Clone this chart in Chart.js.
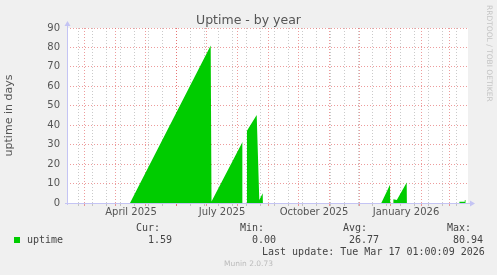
<!DOCTYPE html>
<html>
<head>
<meta charset="utf-8">
<script src="https://cdn.jsdelivr.net/npm/chart.js@4.4.1/dist/chart.umd.min.js"></script>
<style>
  html, body { margin: 0; padding: 0; background: #f0f0f0; }
  #wrap { position: relative; width: 497px; height: 275px; overflow: hidden; font-family: "DejaVu Sans", sans-serif; color: #555; }
  canvas { position: absolute; left: 0; top: 0; }
  .t { position: absolute; white-space: pre; }
  .mono { font-family: "DejaVu Sans Mono", monospace; font-size: 10px; line-height: 12px; color: #444; }
</style>
</head>
<body>
<div id="wrap">
  <canvas id="graph" width="497" height="275"></canvas>
  <div class="t" style="left:0;width:497px;top:12px;text-align:center;font-size:12.5px;line-height:15px;color:#555">Uptime - by year</div>
  <div class="t" style="left:485px;top:5px;font-size:7.5px;line-height:9px;color:#c4c4c4;writing-mode:vertical-rl">RRDTOOL / TOBI OETIKER</div>

  <div class="t mono" style="left:136px;top:222px">Cur:</div>
  <div class="t mono" style="left:240px;top:222px">Min:</div>
  <div class="t mono" style="left:343px;top:222px">Avg:</div>
  <div class="t mono" style="left:447px;top:222px">Max:</div>

  <div class="t" style="left:14px;top:237px;width:6px;height:6px;background:#00cc00"></div>
  <div class="t mono" style="left:27px;top:234px">uptime</div>
  <div class="t mono" style="left:148px;top:234px">1.59</div>
  <div class="t mono" style="left:252px;top:234px">0.00</div>
  <div class="t mono" style="left:349px;top:234px">26.77</div>
  <div class="t mono" style="left:453px;top:234px">80.94</div>

  <div class="t mono" style="left:262px;top:246px">Last update: Tue Mar 17 01:00:09 2026</div>
  <div class="t" style="left:0;width:497px;top:259px;text-align:center;font-size:7.5px;line-height:9px;color:#bbb">Munin 2.0.73</div>
</div>
<script>
// x values = days since 1 March 2025

// uptime in days (null = no data)
let uptimeDays   = [-17, 46, 126.7, 127.5, 158.6, 160, 162.8, 172.7, 175.3, 178.7, 178.9, 297.3, 306, 306.2, 309.3, 309.4, 312.8, 313.4, 322.7, 322.9, 375.3, 375.4, 380.3, 380.8, 381.7];
let uptimeValues = [0, 0, 80.94, 0.8, 31.5, null, 37.0, 45.3, 1.5, 5.0, 0, 0, 9.4, 0, 0, 1.9, 1.6, 2.0, 10.6, 0, 0, 0.7, 0.7, 1.59, 1.59];

// grid: month starts (red) and every other sunday (grey)
let monthStarts = [0, 31, 61, 92, 122, 153, 184, 214, 245, 275, 306, 337, 365];
let weekLines = [-6, 8, 22, 36, 50, 64, 78, 92, 106, 120, 134, 148, 162, 176, 190, 204, 218, 232, 246, 260, 274, 288, 302, 316, 330, 344, 358, 372];

// x labels (centred mid month)
let labelDays = [47, 138, 230, 322];
let labelText = ['April 2025', 'July 2025', 'October 2025', 'January 2026'];

// y grid
let yGrid = [0, 5, 10, 15, 20, 25, 30, 35, 40, 45, 50, 55, 60, 65, 70, 75, 80, 85, 90];

const RED = 'rgba(225,90,90,0.6)';
const GREY = 'rgba(150,150,150,0.5)';
const AXIS = '#c4c4f4';
const tickFont = { family: 'DejaVu Sans', size: 10 };

let gridDays = weekLines.concat(monthStarts).sort((a, b) => a - b);

const plotBg = {
  id: 'plotBg',
  beforeDraw(c) {
    const { ctx, chartArea: a } = c;
    ctx.save();
    ctx.fillStyle = '#fff';
    ctx.fillRect(a.left, a.top, a.right - a.left, a.bottom - a.top);
    ctx.restore();
  }
};

const axisArrows = {
  id: 'axisArrows',
  afterDraw(c) {
    const { ctx, chartArea: a } = c;
    ctx.save();
    ctx.strokeStyle = AXIS;
    ctx.fillStyle = AXIS;
    ctx.lineWidth = 1;
    ctx.beginPath();
    ctx.moveTo(a.left - 2, a.bottom + 0.5);
    ctx.lineTo(a.right + 2, a.bottom + 0.5);
    ctx.moveTo(a.left + 0.5, a.bottom + 2);
    ctx.lineTo(a.left + 0.5, a.top - 2);
    ctx.stroke();
    ctx.beginPath();
    ctx.moveTo(a.right + 2, a.bottom - 2.5);
    ctx.lineTo(a.right + 7, a.bottom + 0.5);
    ctx.lineTo(a.right + 2, a.bottom + 3.5);
    ctx.closePath();
    ctx.fill();
    ctx.beginPath();
    ctx.moveTo(a.left - 2.5, a.top - 2);
    ctx.lineTo(a.left + 0.5, a.top - 7);
    ctx.lineTo(a.left + 3.5, a.top - 2);
    ctx.closePath();
    ctx.fill();
    ctx.restore();
  }
};

let ctx = document.getElementById('graph').getContext('2d');
let uptimeChart = new Chart(ctx, {
  type: 'line',
  data: {
    datasets: [{
      label: 'uptime',
      data: uptimeDays.map((d, i) => ({ x: d, y: uptimeValues[i] })),
      backgroundColor: '#00cc00',
      borderColor: '#00cc00',
      borderWidth: 0,
      pointRadius: 0,
      fill: 'origin',
      spanGaps: false,
      tension: 0
    }]
  },
  options: {
    responsive: false,
    animation: false,
    layout: { padding: { top: 28, right: 29, left: 0, bottom: 0 } },
    plugins: { legend: { display: false }, tooltip: { enabled: false } },
    scales: {
      x: {
        type: 'linear', min: -17, max: 384,
        afterBuildTicks: s => { s.ticks = gridDays.map(v => ({ value: v })); },
        ticks: { display: false },
        grid: {
          color: c => monthStarts.includes(c.tick.value) ? RED : GREY,
          tickColor: c => monthStarts.includes(c.tick.value) ? RED : GREY,
          drawTicks: true, tickLength: 3
        },
        border: { display: false, dash: [1, 2] },
        afterFit: s => { s.height = 0; }
      },
      xl: {
        type: 'linear', position: 'bottom', min: -17, max: 384,
        afterBuildTicks: s => { s.ticks = labelDays.map(v => ({ value: v })); },
        ticks: {
          callback: (v, i) => labelText[i],
          autoSkip: false, maxRotation: 0, font: tickFont, color: '#555', padding: 3
        },
        grid: { display: false, drawTicks: false },
        border: { display: false },
        afterFit: s => { s.height = 72; }
      },
      y: {
        min: 0, max: 90,
        afterBuildTicks: s => { s.ticks = yGrid.map(v => ({ value: v })); },
        ticks: { callback: v => (v % 10 === 0 ? v : ''), font: tickFont, color: '#555', padding: 7 },
        grid: {
          color: c => c.tick.value === 0 ? 'rgba(0,0,0,0)' : (c.tick.value % 10 === 0 ? RED : GREY),
          drawTicks: false
        },
        border: { display: false, dash: [1, 2] },
        title: { display: true, text: 'uptime in days', font: { family: 'DejaVu Sans', size: 11 }, color: '#555', padding: { top: 3, bottom: 0 } },
        afterFit: s => { s.width = 67; }
      }
    }
  },
  plugins: [plotBg, axisArrows]
});
</script>
</body>
</html>
